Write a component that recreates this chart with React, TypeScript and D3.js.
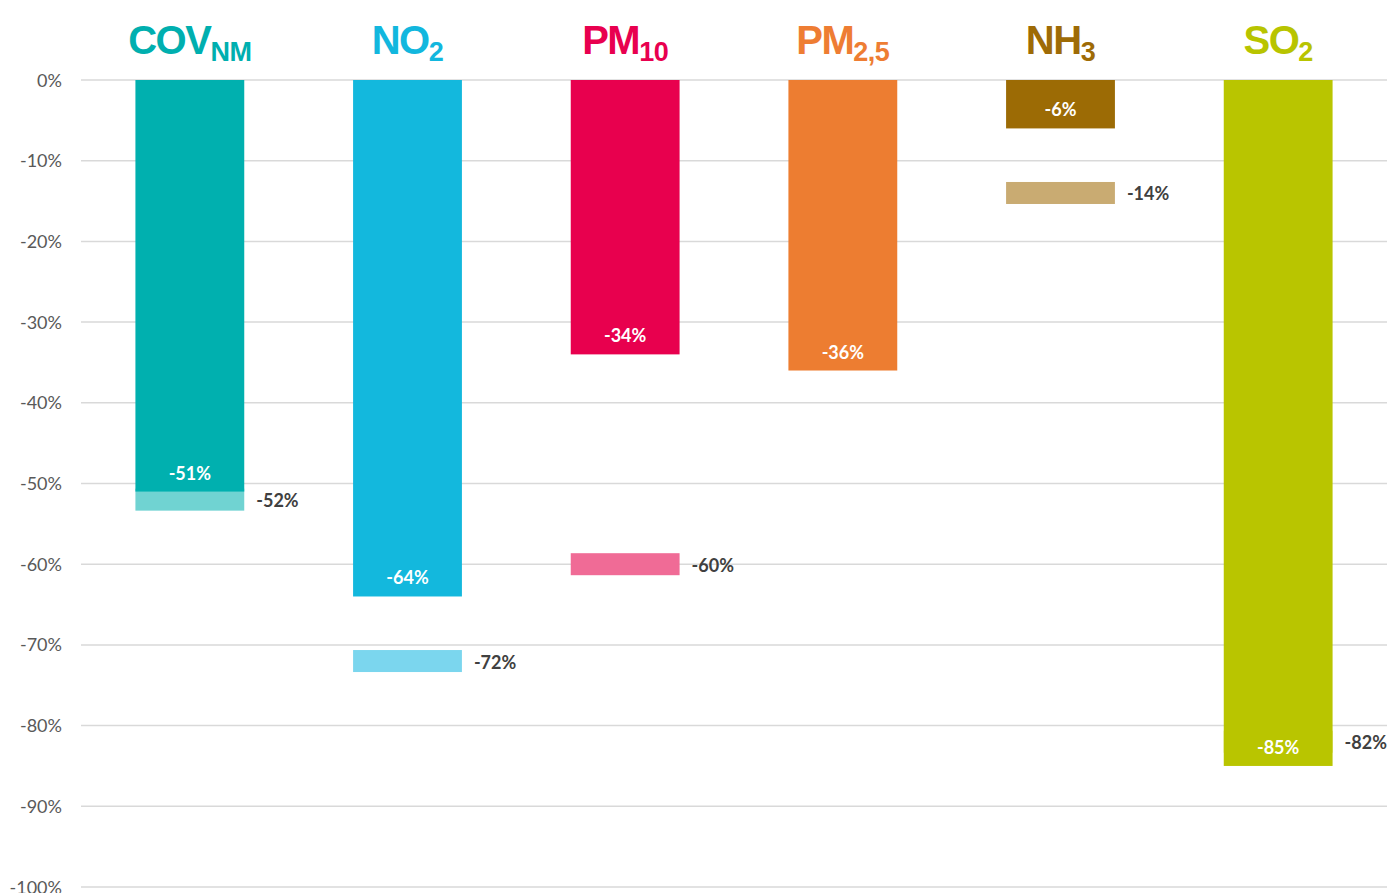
import React from 'react';
import * as d3 from 'd3';

const categories = ['COV', 'NO2', 'PM10', 'PM25', 'NH3', 'SO2'];
const titleMain = ['COV', 'NO', 'PM', 'PM', 'NH', 'SO'];
const titleSub = ['NM', '2', '10', '2,5', '3', '2'];
const values = [-51, -64, -34, -36, -6, -85];
const targets: (number | null)[] = [-52, -72, -60, null, -14, -82];
const yTicks = [0, -10, -20, -30, -40, -50, -60, -70, -80, -90, -100];
const barColors = ['#00B0AF', '#13B8DD', '#E8004E', '#ED7D31', '#9C6B05', '#B9C500'];
const targetColors = ['#70D3D2', '#7BD6EE', '#F06B96', '#F5B183', '#C9AB72', '#D5DC66'];
const titleColors = ['#00AFAF', '#12B7DE', '#E8004F', '#EE7D33', '#9E6B06', '#B8C400'];

const W = 1387;
const H = 893;

export default function App() {
  const x = d3.scaleBand<string>().domain(categories).range([81, 1387]).paddingInner(0.5).paddingOuter(0.25);
  const y = d3.scaleLinear().domain([0, -100]).range([80, 887]);
  const bw = x.bandwidth();
  const font = 'Lato, "Open Sans", sans-serif';
  return (
    <svg width={W} height={H} style={{ position: 'absolute', left: 0, top: 0, background: '#fff' }}>
      {yTicks.map((t) => (
        <g key={t}>
          <line x1={81} x2={1387} y1={y(t)} y2={y(t)} stroke="#D9D9D9" strokeWidth={1.5} />
          <text x={62} y={y(t) + 6.5} textAnchor="end" fontFamily={font} fontSize={18} fill="#595959">
            {t}%
          </text>
        </g>
      ))}
      {categories.map((c, i) => {
        const x0 = x(c)!;
        const t = targets[i];
        return (
          <g key={c}>
            {t !== null && (
              <rect x={x0} y={y(t) - 11} width={bw} height={22} fill={targetColors[i]} />
            )}
            <rect x={x0} y={y(0)} width={bw} height={y(values[i]) - y(0)} fill={barColors[i]} />
            <text x={x0 + bw / 2} y={y(values[i]) - 12} textAnchor="middle" fontFamily={font} fontWeight={700} fontSize={18} fill="#fff">
              {values[i]}%
            </text>
            {t !== null && (
              <text x={x0 + bw + 12} y={y(t) + 7.5} fontFamily={font} fontWeight={700} fontSize={18} fill="#404040">
                {t}%
              </text>
            )}
            <text x={x0 + bw / 2} y={54} textAnchor="middle" fontFamily='"Liberation Sans", Arial, sans-serif' fontWeight={700} fill={titleColors[i]}>
              <tspan fontSize={40} letterSpacing={-1.5}>{titleMain[i]}</tspan>
              <tspan fontSize={27} dy={7} letterSpacing={-0.5}>{titleSub[i]}</tspan>
            </text>
          </g>
        );
      })}
    </svg>
  );
}
